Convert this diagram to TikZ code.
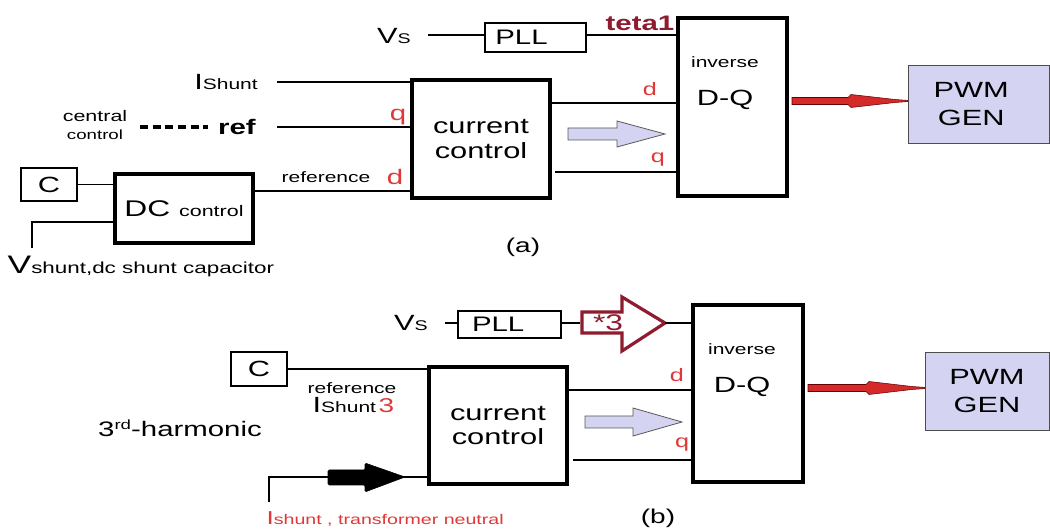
\documentclass[tikz,border=0pt]{standalone}
\usepackage{fontspec}
\setmainfont{Liberation Sans}[FakeStretch=1.4]
\usetikzlibrary{calc}
\definecolor{labred}{HTML}{E03838}
\definecolor{darkred}{HTML}{8E1B2E}
\definecolor{lav}{HTML}{D4D4F2}
\definecolor{arrred}{HTML}{D42A2A}
\newcommand{\fsz}[1]{\fontsize{#1}{#1}\selectfont}
\tikzset{
  thickbox/.style={draw, line width=2.8pt, inner sep=0pt},
  thinbox/.style={draw, line width=1pt, inner sep=0pt},
  wire/.style={line width=0.8pt},
  lbl/.style={inner sep=1pt},
  redlbl/.style={inner sep=1pt, text=labred},
  lavarrow/.style={fill=lav, draw=black!65, line width=0.6pt},
  redarrow/.style={fill=arrred, draw=black!60!red, line width=0.4pt},
}
\begin{document}
\begin{tikzpicture}[x=0.75pt,y=-0.75pt]
\fill[white] (0,0) rectangle (1050,530);
\useasboundingbox (0,0) rectangle (1050,530);

% ================= (a) =================
\node[thinbox, minimum width=75.75pt, minimum height=21.75pt] (PLLa) at (535.5,37.5) {\fsz{15.75}\hspace*{-21pt}PLL};
\node[thickbox, minimum width=81.75pt, minimum height=133.5pt] (DQa) at (732.5,107) {};
\node[thickbox, minimum width=103.5pt, minimum height=88.5pt, align=center, font=\fsz{16.5}] (CCa) at (481,139) {current\\[2pt]control};
\node[thinbox, minimum width=42pt, minimum height=24.75pt] (Ca) at (49,184.5) {\fsz{16.5}C};
\node[thickbox, minimum width=103.5pt, minimum height=51.75pt] (DCa) at (184,208.5) {\fsz{17}DC \fsz{11.5}control};
\node[draw=black!70, fill=lav, line width=0.6pt, minimum width=105.75pt, minimum height=58.5pt, align=center, inner sep=0pt] (PWMa) at (978.5,104) {\fsz{16.5}\hspace*{-11pt}PWM\\[9pt]\fsz{16.5}\hspace*{-11pt}GEN};

\node[lbl] (vsa) at (394,36) {\fsz{16.5}V\fsz{10.5}S};
\node[lbl, text=darkred] (teta) at (640,23) {\fsz{15.75}\bfseries teta1};
\node[lbl] (inva) at (725,62) {\fsz{11.25}inverse};
\node[lbl] (dqa) at (725,100) {\fsz{16.5}D-Q};
\node[lbl] (ishunta) at (226,82) {\fsz{16.5}I\fsz{11.25}Shunt};
\node[lbl, align=center] (central) at (95,125) {\fsz{11.5}central\\[1pt]control};
\node[lbl] (refa) at (237,127) {\fsz{15.75}\bfseries ref};
\node[lbl] (refera) at (326,177) {\fsz{11.25}reference};
\node[redlbl] (qa1) at (398,117) {\fsz{15.75}q};
\node[redlbl] (da1) at (395,177) {\fsz{15.75}d};
\node[redlbl] (da2) at (650,89) {\fsz{13.5}d};
\node[redlbl] (qa2) at (658,160) {\fsz{13.5}q};
\node[lbl, anchor=west] (vdc) at (6,266) {\fsz{19}V\fsz{12}shunt,dc shunt capacitor};
\node[lbl] (capa) at (523,247) {\fsz{15}(a)};

\coordinate (vsaw) at (428,35);
\draw[wire] (vsaw) -- (PLLa.west |- vsaw);
\draw[wire] (PLLa.east |- vsaw) -- (DQa.west |- vsaw);
\coordinate (ia) at (277,82);
\draw[wire] (ia) -- (ia -| CCa.west);
\coordinate (ra) at (277,127);
\draw[wire] (ra) -- (ra -| CCa.west);
\coordinate (dl1) at (140,127);
\coordinate (dl2) at (208,127);
\draw[line width=3pt, dash pattern=on 6pt off 3.5pt] (dl1) -- (dl2);
\coordinate (rfa) at (253,191);
\draw[wire] (rfa -| DCa.east) -- (rfa -| CCa.west);
\draw[wire] (Ca.east) -- (Ca.east -| DCa.west);
\coordinate (vdca) at (32,222);
\coordinate (vdcb) at (32,248);
\draw[wire] (vdca -| DCa.west) -- (vdca) -- (vdcb);
\coordinate (dao) at (550,103);
\draw[wire] (dao -| CCa.east) -- (dao -| DQa.west);
\coordinate (qao) at (555,172);
\draw[wire] (qao) -- (qao -| DQa.west);
\draw[lavarrow] (568,128) -- (617,128) -- (617,121) -- (665,134) -- (617,147) -- (617,140) -- (568,140) -- cycle;
\coordinate (raa) at (792,101);
\draw[redarrow] (raa) ++(0,-3.5) -- (848,97.5) -- (851,94.5) -- (895,99.5) -- (PWMa.west |- 0,100.4) -- (PWMa.west |- 0,101.6) -- (895,102.5) -- (851,107.5) -- (848,104.5) -- (792,104.5) -- cycle;

% ================= (b) =================
\node[thinbox, minimum width=77.25pt, minimum height=20.25pt] (PLLb) at (509.5,324.5) {\fsz{15.75}\hspace*{-17pt}PLL};
\node[thinbox, minimum width=42pt, minimum height=25.5pt] (Cb) at (259,369) {\fsz{16.5}C};
\node[thickbox, minimum width=103.5pt, minimum height=87.75pt, align=center, font=\fsz{16.5}] (CCb) at (498,425.5) {current\\[2pt]control};
\node[thickbox, minimum width=82.5pt, minimum height=132.75pt] (DQb) at (748,393.5) {};
\node[draw=black!70, fill=lav, line width=0.6pt, minimum width=93pt, minimum height=58.5pt, align=center, inner sep=0pt] (PWMb) at (987,391) {\fsz{16.5}PWM\\[9pt]\fsz{16.5}GEN};

\node[lbl] (vsb) at (411,323) {\fsz{16.5}V\fsz{10.5}S};
\node[lbl] (invb) at (742,349) {\fsz{11.25}inverse};
\node[lbl] (dqb) at (742,387) {\fsz{16.5}D-Q};
\node[lbl, anchor=east] (referb) at (398,388) {\fsz{11.25}reference};
\node[lbl, anchor=west] (ishuntb) at (311,405) {\fsz{16.5}I\fsz{11.25}Shunt\,\textcolor{labred}{\fsz{15}3}};
\node[lbl] (harm) at (180,428) {\fsz{15.75}3\raisebox{5pt}{\fsz{10}rd}-harmonic};
\node[redlbl, anchor=west] (ishtn) at (265,519) {\fsz{14}I\fsz{10.5}shunt , transformer neutral};
\node[redlbl] (db) at (677,375) {\fsz{13.5}d};
\node[redlbl] (qb) at (682,445) {\fsz{13.5}q};
\node[lbl] (capb) at (658,518) {\fsz{15}(b)};

\coordinate (vsbw) at (445,323);
\draw[wire] (vsbw) -- (PLLb.west |- vsbw);
\coordinate (s3in) at (580,323);
\coordinate (s3out) at (665,323);
\draw[wire] (PLLb.east |- s3in) -- (s3in);
\draw[darkred, line width=2.4pt, fill=white, line join=miter] (582,312) -- (622,312) -- (622,297) -- (s3out) -- (622,351) -- (622,333) -- (582,333) -- cycle;
\node[lbl, text=darkred] (star3) at (608,323) {\fsz{17}*3};
\draw[wire] (s3out) -- (s3out -| DQb.west);
\draw[wire] (Cb.east) -- (Cb.east -| CCb.west);
\coordinate (tn1) at (269,502);
\coordinate (tn2) at (269,477);
\draw[wire] (tn1) -- (tn2) -- (tn2 -| CCb.west);
\draw[fill=black, rounded corners=1pt] (328,470) -- (365,470) -- (365,463) -- (405,477) -- (365,492) -- (365,485) -- (328,485) -- cycle;
\coordinate (dbo) at (567,390);
\draw[wire] (dbo -| CCb.east) -- (dbo -| DQb.west);
\coordinate (qbo) at (573,460);
\draw[wire] (qbo) -- (qbo -| DQb.west);
\draw[lavarrow] (585,416) -- (633,416) -- (633,408) -- (682,422) -- (633,436) -- (633,428) -- (585,428) -- cycle;
\draw[redarrow] (808,384.5) -- (866,384.5) -- (869,381.5) -- (912,386.5) -- (PWMb.west |- 0,387.4) -- (PWMb.west |- 0,388.6) -- (912,389.5) -- (869,394.5) -- (866,391.5) -- (808,391.5) -- cycle;
\end{tikzpicture}
\end{document}
